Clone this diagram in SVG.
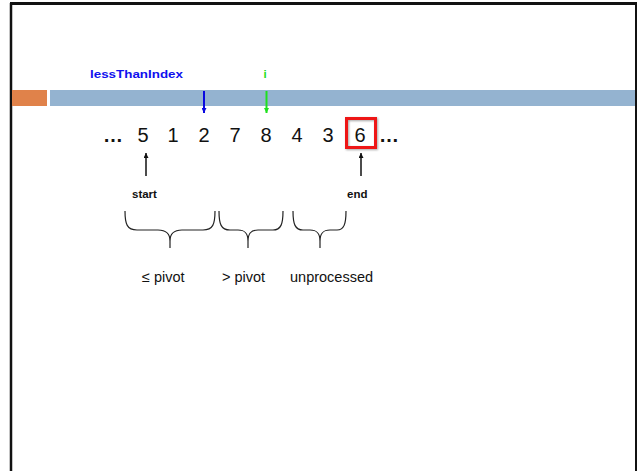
<svg xmlns="http://www.w3.org/2000/svg" width="639" height="471" viewBox="0 0 639 471">
  <style>
    .num { font-family: "Liberation Sans", Arial, sans-serif; font-size: 20px; fill: #111; text-anchor: middle; }
    .dots { font-weight: bold; }
    .bold { font-family: "Liberation Sans", Arial, sans-serif; font-size: 11.5px; font-weight: bold; }
    .lbl { font-family: "Liberation Sans", Arial, sans-serif; font-size: 14.5px; fill: #111; }
    .brace { fill: none; stroke: #222; stroke-width: 1.2; }
    .frame { stroke: #111; fill: none; }
  </style>
  <defs>
    <marker id="headBlue" viewBox="0 0 10 10" refX="10" refY="5" markerWidth="5" markerHeight="5" orient="auto" markerUnits="userSpaceOnUse">
      <path d="M0,0 L10,5 L0,10 Z" fill="#0a0ae0"/>
    </marker>
    <marker id="headGreen" viewBox="0 0 10 10" refX="10" refY="5" markerWidth="5" markerHeight="5" orient="auto" markerUnits="userSpaceOnUse">
      <path d="M0,0 L10,5 L0,10 Z" fill="#1ee01e"/>
    </marker>
    <marker id="headBlack" viewBox="0 0 10 10" refX="10" refY="5" markerWidth="5" markerHeight="5" orient="auto" markerUnits="userSpaceOnUse">
      <path d="M0,0 L10,5 L0,10 Z" fill="#111"/>
    </marker>
    <filter id="shadow" x="-20%" y="-20%" width="150%" height="150%">
      <feDropShadow dx="1" dy="1" stdDeviation="0.8" flood-color="#000" flood-opacity="0.35"/>
    </filter>
  </defs>

  <!-- slide frame -->
  <g id="frame">
    <line class="frame" x1="10" y1="3.5" x2="637" y2="3.5" stroke-width="3"/>
    <line class="frame" x1="11" y1="3" x2="11" y2="471" stroke-width="2.5"/>
    <line class="frame" x1="636" y1="3" x2="636" y2="471" stroke-width="2"/>
  </g>

  <!-- header bars -->
  <g id="header">
    <rect x="12" y="90" width="35" height="16" fill="#e0824a"/>
    <rect x="50" y="90" width="585" height="16" fill="#94b3d0"/>
  </g>

  <!-- index labels -->
  <g id="label-lessThanIndex">
    <text class="bold" x="90" y="78" fill="#1010ee" textLength="93" lengthAdjust="spacingAndGlyphs">lessThanIndex</text>
  </g>
  <g id="label-i">
    <text class="bold" x="265" y="78" fill="#22dd22" text-anchor="middle">i</text>
  </g>

  <!-- array values -->
  <g id="array">
    <text class="num dots" x="113" y="142">…</text>
    <text class="num" x="143" y="142">5</text>
    <text class="num" x="173" y="142">1</text>
    <text class="num" x="204" y="142">2</text>
    <text class="num" x="235" y="142">7</text>
    <text class="num" x="266" y="142">8</text>
    <text class="num" x="297" y="142">4</text>
    <text class="num" x="328" y="142">3</text>
    <text class="num" x="360" y="142">6</text>
    <text class="num dots" x="389" y="142">…</text>
  </g>

  <!-- pivot highlight -->
  <g id="pivot-box">
    <rect x="346.5" y="118.5" width="29" height="29" fill="none" stroke="#ee1515" stroke-width="3" filter="url(#shadow)"/>
  </g>

  <!-- start / end labels -->
  <g id="label-start">
    <text class="bold" x="132" y="198" fill="#111">start</text>
  </g>
  <g id="label-end">
    <text class="bold" x="347" y="198" fill="#111">end</text>
  </g>

  <!-- pointer arrows -->
  <g id="connectors">
    <line x1="204" y1="91" x2="204" y2="113" stroke="#0a0ae0" stroke-width="2" marker-end="url(#headBlue)"/>
    <line x1="266.5" y1="91" x2="266.5" y2="113" stroke="#1ee01e" stroke-width="2" marker-end="url(#headGreen)"/>
    <line x1="146" y1="176" x2="146" y2="153" stroke="#111" stroke-width="1.5" marker-end="url(#headBlack)"/>
    <line x1="361" y1="176" x2="361" y2="153" stroke="#111" stroke-width="1.5" marker-end="url(#headBlack)"/>
  </g>

  <!-- range braces -->
  <g id="brace-le">
    <path class="brace" d="M125,211 C125,224 127,230 137,230 L158,230 C166,230 170,233 170,241 L170,248 M170,241 C170,233 174,230 182,230 L203,230 C213,230 215,224 215,211"/>
  </g>
  <g id="brace-gt">
    <path class="brace" d="M219,211 C219,224 221,230 230,230 L238,230 C245,230 248,233 248,241 L248,248 M248,241 C248,233 251,230 258,230 L273,230 C281,230 283,224 283,211"/>
  </g>
  <g id="brace-unprocessed">
    <path class="brace" d="M293,211 C293,224 295,230 303,230 L310,230 C317,230 320,233 320,241 L320,248 M320,241 C320,233 323,230 330,230 L337,230 C344,230 346,224 346,211"/>
  </g>

  <!-- range labels -->
  <g id="range-labels">
    <text class="lbl" x="142" y="282">≤ pivot</text>
    <text class="lbl" x="222" y="282">&gt; pivot</text>
    <text class="lbl" x="290" y="282">unprocessed</text>
  </g>
</svg>
